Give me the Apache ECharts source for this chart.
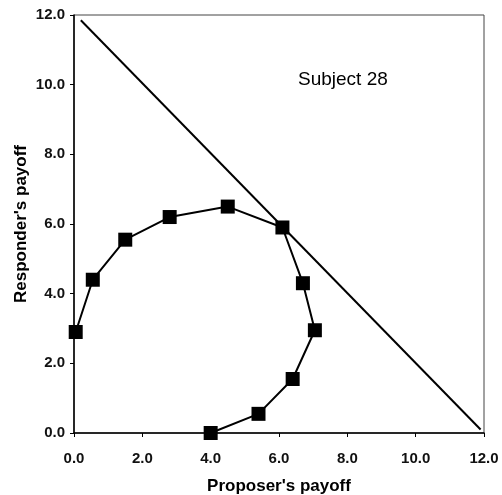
<!DOCTYPE html>
<html><head><meta charset="utf-8">
<script src="https://cdn.jsdelivr.net/npm/echarts@6/dist/echarts.min.js"></script>
<style>html,body{margin:0;padding:0;background:#fff}#c{width:502px;height:495px}</style>
</head><body><div id="c"></div>
<script>
var proposerPayoff = [0.05, 0.55, 1.5, 2.8, 4.5, 6.1, 6.7, 7.05, 6.4, 5.4, 4.0];
var responderPayoff = [2.9, 4.4, 5.55, 6.2, 6.5, 5.9, 4.3, 2.95, 1.55, 0.55, 0.0];
var frontierX = [0.2, 11.9];
var frontierY = [11.85, 0.1];
var chartLabel = "Subject 28";
var xTitle = "Proposer's payoff";
var yTitle = "Responder's payoff";

var font = 'Liberation Sans, Arial, sans-serif';
var chart = echarts.init(document.getElementById('c'));
chart.setOption({
  animation: false,
  grid: {left: 74, right: 18, top: 15, bottom: 62, show: true, borderColor: '#444', borderWidth: 1,
         containLabel: false, outerBoundsMode: 'none'},
  xAxis: {
    type: 'value', min: 0, max: 12, interval: 2,
    name: xTitle, nameLocation: 'middle', nameGap: 45, nameMoveOverlap: false,
    nameTextStyle: {fontFamily: font, fontSize: 17, fontWeight: 'bold', color: '#000'},
    axisLine: {lineStyle: {color: '#000', width: 1.5}},
    axisTick: {show: true, inside: false, length: 4, lineStyle: {color: '#000'}},
    axisLabel: {fontFamily: font, fontSize: 15, fontWeight: 'bold', color: '#111', margin: 18, formatter: function(v){return v.toFixed(1);}},
    splitLine: {show: false}
  },
  yAxis: {
    type: 'value', min: 0, max: 12, interval: 2,
    name: yTitle, nameLocation: 'middle', nameGap: 44, nameRotate: 90, nameMoveOverlap: false,
    nameTextStyle: {fontFamily: font, fontSize: 17, fontWeight: 'bold', color: '#000'},
    axisLine: {lineStyle: {color: '#000', width: 1.5}},
    axisTick: {show: true, inside: false, length: 4, lineStyle: {color: '#000'}},
    axisLabel: {fontFamily: font, fontSize: 15, fontWeight: 'bold', color: '#111', margin: 9, formatter: function(v){return v.toFixed(1);}},
    splitLine: {show: false}
  },
  graphic: [{
    type: 'text', left: 298, top: 70,
    style: {text: chartLabel, fontFamily: font, fontSize: 19, fill: '#000'}
  }],
  series: [{
    type: 'line',
    data: frontierX.map(function(x, i){return [x, frontierY[i]];}),
    showSymbol: false, symbol: 'none',
    lineStyle: {color: '#000', width: 2}
  }, {
    type: 'line',
    data: proposerPayoff.map(function(x, i){return [x, responderPayoff[i]];}),
    symbol: 'rect', symbolSize: 14,
    itemStyle: {color: '#000'},
    lineStyle: {color: '#000', width: 2}
  }]
});
</script>
</body></html>
